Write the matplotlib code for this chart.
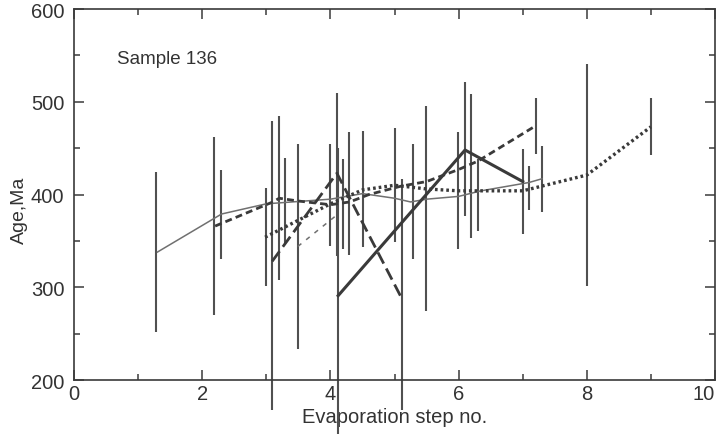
import matplotlib.pyplot as plt
from matplotlib.ticker import MultipleLocator

plt.rcParams['font.family'] = ['Liberation Sans', 'DejaVu Sans']

# Series (evaporation step, age in Ma)
thin_x = [1.3, 2.3, 3.0, 4.0, 4.5, 5.0, 5.25, 5.5, 6.0, 6.35, 7.1, 7.3]
thin_y = [338, 379, 390, 395, 401, 396, 392, 395, 398, 404, 413, 417]

dash_x = [2.2, 3.1, 3.2, 3.5, 4.0, 4.3, 4.6, 5.1, 5.5, 6.0, 6.3, 7.2]
dash_y = [366, 392, 396, 393, 389, 392, 400, 409, 414, 427, 436, 474]

longdash_x = [3.09, 4.1, 5.12]
longdash_y = [328, 423, 287]

dot_x = [2.98, 4.0, 4.5, 5.0, 5.5, 6.0, 7.0, 8.0, 9.0]
dot_y = [354, 390, 405, 410, 406, 404, 404, 421, 473]

thindash_x = [3.49, 4.1]
thindash_y = [344, 378]

thick_x = [4.12, 6.1, 7.0]
thick_y = [291, 448, 414]

# error bars: step, lower age, upper age
err_x = [1.28, 2.19, 2.29, 2.99, 3.09, 3.2, 3.29, 3.49, 3.99, 4.1, 4.12, 4.2,
         4.29, 4.51, 5.0, 5.12, 5.29, 5.49, 5.99, 6.1, 6.19, 6.3, 7.0, 7.1,
         7.2, 7.3, 8.0, 9.0]
err_lo = [252, 270, 331, 301, 168, 308, 347, 234, 344, 334, 135, 341,
          335, 343, 349, 168, 330, 274, 341, 377, 353, 361, 357, 383,
          444, 381, 301, 443]
err_hi = [424, 462, 426, 407, 479, 485, 439, 455, 455, 509, 450, 438,
          467, 468, 472, 417, 454, 495, 467, 521, 508, 438, 449, 431,
          504, 452, 541, 504]

x_ticks = [0, 2, 4, 6, 8, 10]

fig = plt.figure(figsize=(7.2, 4.35), dpi=100)
ax = fig.add_axes([0.103, 0.124, 0.890, 0.853])

ink = '#3a3a3a'

ax.vlines(err_x, err_lo, err_hi, colors='#505050', linewidth=1.5, clip_on=False, zorder=2)

ax.plot(thin_x, thin_y, color='#707070', linewidth=1.1, zorder=3)
ax.plot(dash_x, dash_y, color=ink, linewidth=2.0, dashes=(2.5, 1.5), zorder=3)
ax.plot(longdash_x, longdash_y, color=ink, linewidth=2.0, dashes=(4.5, 2), zorder=3)
ax.plot(dot_x, dot_y, color=ink, linewidth=2.4, dashes=(0.8, 0.9), zorder=3)
ax.plot(thindash_x, thindash_y, color='#707070', linewidth=1.1, dashes=(3, 4), zorder=3)
ax.plot(thick_x, thick_y, color=ink, linewidth=2.2, zorder=4)

ax.text(0.67, 547, 'Sample 136', fontsize=13.5, color='#333333', va='center')

ax.set_xlim(0, 10)
ax.set_ylim(200, 600)
ax.set_xticks(x_ticks)
labels = ax.set_xticklabels([str(t) for t in x_ticks])
labels[-1].set_horizontalalignment('right')
ax.xaxis.set_minor_locator(MultipleLocator(1))
ax.yaxis.set_major_locator(MultipleLocator(100))
ax.yaxis.set_minor_locator(MultipleLocator(50))
ax.tick_params(which='both', direction='in', top=True, right=True, colors=ink,
               labelcolor='#333333', labelsize=14.5, width=1.1)
ax.tick_params(which='major', length=7)
ax.tick_params(axis='x', which='major', pad=3)
ax.tick_params(axis='y', which='major', pad=7)
ax.tick_params(which='minor', length=4)
for s in ax.spines.values():
    s.set_color(ink)
    s.set_linewidth(1.2)

ax.set_xlabel('Evaporation step no.', fontsize=14.5, color='#333333')
ax.xaxis.set_label_coords(0.5, -0.072)
ax.set_ylabel('Age,Ma', fontsize=14, color='#333333')
ax.yaxis.set_label_coords(-0.072, 0.46)

fig.savefig('out.png', dpi=100)
